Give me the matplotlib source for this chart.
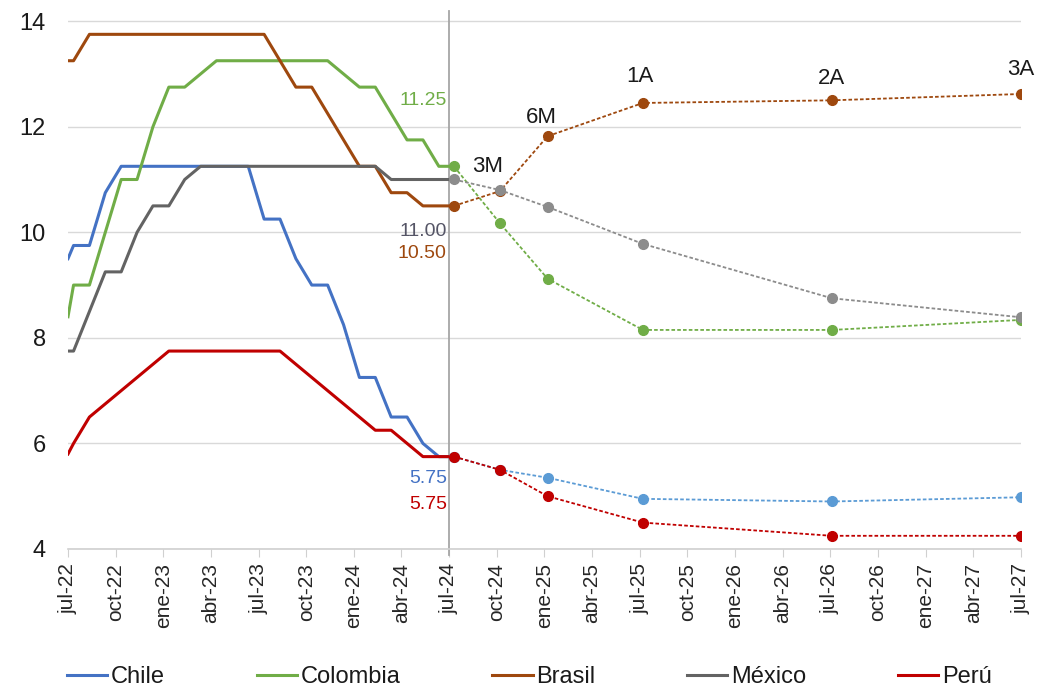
import numpy as np
import matplotlib.pyplot as plt

plt.rcParams['font.family'] = ['Liberation Sans', 'DejaVu Sans']

# months since jul-22
x_hist = [0, 0.35, 1.35, 2.35, 3.35, 4.35, 5.35, 6.35, 7.35, 8.35, 9.35, 10.35, 11.35,
          12.35, 13.35, 14.35, 15.35, 16.35, 17.35, 18.35, 19.35, 20.35, 21.35, 22.35, 23.35, 24]
chile = [9.5, 9.75, 9.75, 10.75, 11.25, 11.25, 11.25, 11.25, 11.25, 11.25, 11.25, 11.25, 11.25,
         10.25, 10.25, 9.5, 9.0, 9.0, 8.25, 7.25, 7.25, 6.5, 6.5, 6.0, 5.75, 5.75]
colombia = [8.4, 9.0, 9.0, 10.0, 11.0, 11.0, 12.0, 12.75, 12.75, 13.0, 13.25, 13.25, 13.25,
            13.25, 13.25, 13.25, 13.25, 13.25, 13.0, 12.75, 12.75, 12.25, 11.75, 11.75, 11.25, 11.25]
brasil = [13.25, 13.25, 13.75, 13.75, 13.75, 13.75, 13.75, 13.75, 13.75, 13.75, 13.75, 13.75, 13.75,
          13.75, 13.25, 12.75, 12.75, 12.25, 11.75, 11.25, 11.25, 10.75, 10.75, 10.5, 10.5, 10.5]
mexico = [7.75, 7.75, 8.5, 9.25, 9.25, 10.0, 10.5, 10.5, 11.0, 11.25, 11.25, 11.25, 11.25,
          11.25, 11.25, 11.25, 11.25, 11.25, 11.25, 11.25, 11.25, 11.0, 11.0, 11.0, 11.0, 11.0]
peru = [5.8, 6.0, 6.5, 6.75, 7.0, 7.25, 7.5, 7.75, 7.75, 7.75, 7.75, 7.75, 7.75,
        7.75, 7.75, 7.5, 7.25, 7.0, 6.75, 6.5, 6.25, 6.25, 6.0, 5.75, 5.75, 5.75]

# expectations: actual, 3M, 6M, 1A, 2A, 3A
x_fc = [24.3, 27.2, 30.2, 36.2, 48.1, 60]
chile_fc = [5.75, 5.5, 5.35, 4.95, 4.9, 4.98]
colombia_fc = [11.25, 10.17, 9.12, 8.15, 8.15, 8.34]
brasil_fc = [10.5, 10.78, 11.82, 12.45, 12.5, 12.62]
mexico_fc = [11.0, 10.8, 10.48, 9.78, 8.75, 8.39]
peru_fc = [5.75, 5.5, 5.0, 4.5, 4.25, 4.25]

horizons = ['3M', '6M', '1A', '2A', '3A']
horizon_x = [26.4, 29.8, 36.0, 48.1, 60.0]
horizon_y = [11.25, 12.17, 12.96, 12.92, 13.09]

tick_labels = ['jul-22', 'oct-22', 'ene-23', 'abr-23', 'jul-23', 'oct-23', 'ene-24', 'abr-24', 'jul-24',
               'oct-24', 'ene-25', 'abr-25', 'jul-25', 'oct-25', 'ene-26', 'abr-26', 'jul-26', 'oct-26',
               'ene-27', 'abr-27', 'jul-27']

series = [
    ('Chile', chile, chile_fc, '#4472C4', '#5B9BD5'),
    ('Colombia', colombia, colombia_fc, '#70AD47', '#70AD47'),
    ('Brasil', brasil, brasil_fc, '#9E480E', '#9E480E'),
    ('México', mexico, mexico_fc, '#636363', '#8C8C8C'),
    ('Perú', peru, peru_fc, '#C00000', '#C00000'),
]

fig = plt.figure(figsize=(10.38, 6.91), dpi=100)
ax = fig.add_axes([0.0655, 0.2055, 0.918, 0.783])

for name, hist, fc, col, fcol in series:
    ax.plot(x_hist, hist, color=col, lw=2.2, label=name, zorder=3)
    ax.plot(x_fc, fc, color=fcol, lw=1.3, ls=(0, (2, 1.2)), marker='o', ms=7,
            markerfacecolor=fcol, markeredgecolor=fcol, zorder=4)

ax.set_xlim(0, 60)
ax.set_ylim(4, 14.25)
ax.set_yticks(np.arange(4, 15, 2))
ax.set_xticks(np.arange(0, 61, 3))
ax.set_xticklabels(tick_labels, rotation=90, fontsize=15, color='#262626')
ax.tick_params(axis='y', length=0, labelsize=17, colors='#1a1a1a', pad=16)
ax.tick_params(axis='x', length=6, color='#D0D0D0', pad=4)
ax.grid(axis='y', color='#D9D9D9', lw=1)
ax.set_axisbelow(True)
for s in ['top', 'right', 'left']:
    ax.spines[s].set_visible(False)
ax.spines['bottom'].set_color('#D0D0D0')
ax.spines['bottom'].set_linewidth(1.2)

ax.axvline(24, ymin=-0.012, ymax=0.995, color='#A6A6A6', lw=1.3, clip_on=False, zorder=2)

# horizon labels
for hx, hy, h in zip(horizon_x, horizon_y, horizons):
    ax.text(hx, hy, h, fontsize=16, color='#1a1a1a', ha='center', va='center')

# last observed values
ax.text(23.85, 12.5, '11.25', color='#70AD47', fontsize=14, ha='right', va='center')
ax.text(23.85, 10.02, '11.00', color='#555566', fontsize=14, ha='right', va='center')
ax.text(23.85, 9.59, '10.50', color='#9E480E', fontsize=14, ha='right', va='center')
ax.text(23.85, 5.34, '5.75', color='#4472C4', fontsize=14, ha='right', va='center')
ax.text(23.85, 4.85, '5.75', color='#C00000', fontsize=14, ha='right', va='center')

fig.legend(loc='center', bbox_to_anchor=(0.51, 0.02), ncol=5, frameon=False, fontsize=17,
           handlelength=1.7, handletextpad=0.15, columnspacing=3.9, labelcolor='#1a1a1a')

fig.savefig('out.png', dpi=100)
